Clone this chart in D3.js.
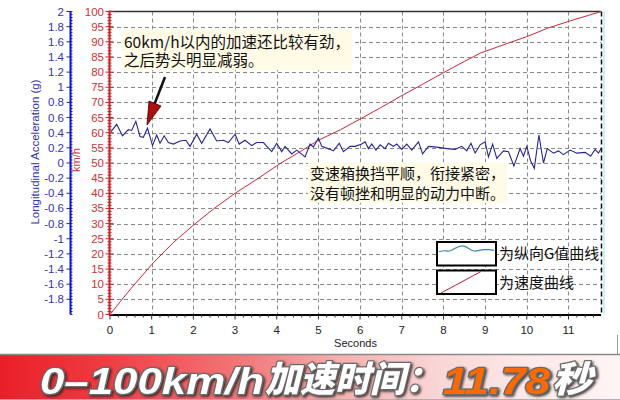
<!DOCTYPE html>
<html><head><meta charset="utf-8">
<script src="https://cdn.jsdelivr.net/npm/d3@7/dist/d3.min.js"></script>
<style>body{margin:0;background:#fff}svg{display:block}</style>
</head><body>
<svg id="c" width="620" height="400"></svg>
<script>
// ---- data ----
const gTime = [0.02,0.16,0.30,0.44,0.52,0.62,0.72,0.80,0.90,1.02,1.12,1.20,1.30,1.40,1.52,1.68,1.82,1.92,2.08,2.20,2.40,2.56,2.72,2.84,3.00,3.10,3.24,3.40,3.52,3.68,3.88,4.00,4.12,4.20,4.36,4.48,4.68,4.80,4.88,5.00,5.08,5.28,5.36,5.50,5.60,5.76,5.88,6.04,6.12,6.20,6.28,6.38,6.48,6.60,6.68,6.80,6.88,7.00,7.12,7.24,7.40,7.50,7.64,7.84,8.08,8.28,8.44,8.56,8.66,8.76,8.88,9.00,9.08,9.18,9.28,9.44,9.56,9.69,9.84,9.92,10.00,10.09,10.18,10.29,10.40,10.49,10.64,10.76,10.88,11.04,11.20,11.40,11.53,11.64,11.72,11.78];
const gValue = [0.41,0.51,0.36,0.44,0.43,0.55,0.35,0.34,0.46,0.23,0.37,0.26,0.36,0.27,0.25,0.29,0.30,0.22,0.38,0.26,0.45,0.29,0.30,0.27,0.38,0.25,0.30,0.23,0.27,0.27,0.15,0.26,0.15,0.22,0.12,0.17,0.08,0.25,0.21,0.33,0.22,0.18,0.16,0.26,0.15,0.22,0.22,0.25,0.28,0.19,0.25,0.17,0.24,0.19,0.26,0.22,0.25,0.18,0.25,0.17,0.28,0.12,0.22,0.21,0.19,0.18,0.22,0.16,0.26,0.13,0.24,0.28,0.08,0.25,0.06,0.16,0.15,-0.04,0.19,0.09,0.22,0.03,-0.07,0.37,0.00,0.19,0.13,0.16,0.11,0.17,0.13,0.14,0.09,0.18,0.13,0.19];
const vTime = [0,0.25,0.5,1,1.5,2,2.5,3,3.53,4.09,4.57,5,5.53,6,6.5,6.97,7.5,8,8.5,8.89,9.5,10,10.5,11.13,11.5,11.78];
const vValue = [0,4.3,8.5,16.5,23.5,29.5,35,40,44.7,49.9,53.8,57.5,61,64.5,68.3,72,76,79.8,83.5,86.3,89.3,91.7,94.5,97.3,98.8,100];
const xTicks = [0,1,2,3,4,5,6,7,8,9,10,11];
const vTicks = d3.range(0, 101, 5);
const gTicks = d3.range(-18, 21, 2).map(d => d / 10);
const note1 = ["60km/h以内的加速还比较有劲，", "之后势头明显减弱。"];
const note2 = ["变速箱换挡平顺，衔接紧密，", "没有顿挫和明显的动力中断。"];
const legendLabels = ["为纵向G值曲线", "为速度曲线"];
const legendWave = [0.45,0.55,0.45,0.65,0.85,0.9,0.65,0.45,0.55,0.6,0.6,0.55];
const bannerParts = ["0–100km/h", "加速时间：", "11.78", "秒"];

// ---- layout ----
const svg = d3.select("#c");
const L = 110, R = 601, T = 11.5, B = 314.5;
const x = d3.scaleLinear().domain([0, 11.78]).range([L, R]);
const yV = d3.scaleLinear().domain([0, 100]).range([B, T]);
const yG = d3.scaleLinear().domain([-2, 2]).range([B, T]);
const latin = "'Liberation Sans', Arial, sans-serif";
const cjk = "'Noto Sans CJK SC', sans-serif";

const defs = svg.append("defs");
const grad = defs.append("linearGradient").attr("id", "bg").attr("x1", 0).attr("x2", 1).attr("y1", 0).attr("y2", 0);
[[0,"#e91f28"],[0.15,"#ee383e"],[0.4,"#f27a7c"],[0.55,"#f6b0b0"],[0.7,"#fad4d4"],[0.85,"#fde9e9"],[1,"#fff4f4"]]
  .forEach(([o,c]) => grad.append("stop").attr("offset", o).attr("stop-color", c));
const f = defs.append("filter").attr("id", "sh").attr("x", "-10%").attr("y", "-20%").attr("width", "130%").attr("height", "150%");
f.append("feDropShadow").attr("dx", 1.5).attr("dy", 1.5).attr("stdDeviation", 1.2).attr("flood-color", "#222").attr("flood-opacity", 0.85);

// grid
const grid = svg.append("g").attr("stroke", "#8a8a8a").attr("stroke-dasharray", "4,3").attr("stroke-width", 1);
grid.selectAll("line.h").data(vTicks.filter(d => d > 0 && d < 100)).join("line")
  .attr("x1", L).attr("x2", R).attr("y1", d => Math.round(yV(d)) + 0.5).attr("y2", d => Math.round(yV(d)) + 0.5);
grid.selectAll("line.v").data(xTicks.filter(d => d > 0)).join("line")
  .attr("y1", T).attr("y2", B).attr("x1", d => Math.round(x(d)) + 0.5).attr("x2", d => Math.round(x(d)) + 0.5);

// frame
svg.append("line").attr("x1", L).attr("x2", R).attr("y1", T).attr("y2", T).attr("stroke", "#333").attr("stroke-width", 1.5);
svg.append("line").attr("x1", R + 0.5).attr("x2", R + 0.5).attr("y1", T).attr("y2", B).attr("stroke", "#111").attr("stroke-width", 1.5).attr("stroke-dasharray", "5,3");
svg.append("line").attr("x1", R + 3).attr("x2", R + 3).attr("y1", T).attr("y2", B).attr("stroke", "#c8f4f4").attr("stroke-width", 2);

// curves
svg.append("path").datum(vTime.map((t, i) => [t, vValue[i]]))
  .attr("fill", "none").attr("stroke", "#c42a3e").attr("stroke-width", 1)
  .attr("d", d3.line().x(d => x(d[0])).y(d => yV(d[1])));
svg.append("path").datum(gTime.map((t, i) => [t, gValue[i]]))
  .attr("fill", "none").attr("stroke", "#26268f").attr("stroke-width", 1.1)
  .attr("d", d3.line().x(d => x(d[0])).y(d => yG(d[1])));

// x axis
const xa = svg.append("g");
xa.append("line").attr("x1", L - 1).attr("x2", R).attr("y1", B + 0.5).attr("y2", B + 0.5).attr("stroke", "#000").attr("stroke-width", 2);
xa.selectAll("line.mn").data(d3.range(0, 59).map(i => i / 5)).join("line")
  .attr("x1", d => x(d)).attr("x2", d => x(d)).attr("y1", B).attr("y2", d => Math.abs(d - Math.round(d)) < 1e-6 ? B + 5 : B + 3)
  .attr("stroke", "#333").attr("stroke-width", 1);
xa.selectAll("text").data(xTicks).join("text")
  .attr("x", d => x(d)).attr("y", 334).attr("text-anchor", "middle")
  .attr("font-family", latin).attr("font-size", 11.5).attr("fill", "#222").text(d => d);
svg.append("text").attr("x", (L + R) / 2).attr("y", 347).attr("text-anchor", "middle")
  .attr("font-family", latin).attr("font-size", 11).attr("fill", "#222").text("Seconds");

// red speed axis
const ra = svg.append("g");
const rx = 109.5;
ra.selectAll("line.mn").data(d3.range(0, 101, 1)).join("line")
  .attr("x1", d => d % 5 === 0 ? rx - 4 : rx - 2).attr("x2", d => d % 5 === 0 ? rx + 4 : rx + 2)
  .attr("y1", d => yV(d)).attr("y2", d => yV(d)).attr("stroke", "#cc2222").attr("stroke-width", 1);
ra.append("line").attr("x1", rx).attr("x2", rx).attr("y1", T - 1).attr("y2", B + 1).attr("stroke", "#cc2222").attr("stroke-width", 2);
ra.selectAll("text").data(vTicks).join("text")
  .attr("x", 104).attr("y", d => yV(d)).attr("dy", "0.35em").attr("text-anchor", "end")
  .attr("font-family", latin).attr("font-size", 11.5).attr("fill", "#cc3333").text(d => d);
svg.append("text").attr("transform", "translate(80,160) rotate(-90)").attr("text-anchor", "middle")
  .attr("font-family", latin).attr("font-size", 11).attr("fill", "#cc3333").text("km/h");

// blue g axis
const ba = svg.append("g");
const bx = 70.5;
ba.selectAll("line.mn").data(d3.range(-50, 51, 1).map(i => i / 25)).join("line")
  .attr("x1", bx).attr("x2", bx + 2)
  .attr("y1", d => yG(d)).attr("y2", d => yG(d)).attr("stroke", "#2020c0").attr("stroke-width", 1);
ba.selectAll("line.mj").data(gTicks).join("line")
  .attr("x1", bx - 4).attr("x2", bx).attr("y1", d => yG(d)).attr("y2", d => yG(d)).attr("stroke", "#2020c0").attr("stroke-width", 1);
ba.append("line").attr("x1", bx).attr("x2", bx).attr("y1", T).attr("y2", B).attr("stroke", "#1010cc").attr("stroke-width", 2);
ba.selectAll("text").data(gTicks).join("text")
  .attr("x", 64).attr("y", d => yG(d)).attr("dy", "0.35em").attr("text-anchor", "end")
  .attr("font-family", latin).attr("font-size", 11.5).attr("fill", "#3535a8").text(d => String(+d.toFixed(1)));
svg.append("text").attr("transform", "translate(39,152) rotate(-90)").attr("text-anchor", "middle")
  .attr("font-family", latin).attr("font-size", 11.5).attr("fill", "#3535a8").text("Longitudinal Acceleration (g)");

// annotations with light background
function note(lines, x0, y0, lh, fs) {
  const g = svg.append("g");
  const bgR = g.append("rect").attr("fill", "#fffbe6");
  const t = g.selectAll("text").data(lines).join("text")
    .attr("x", x0).attr("y", (d, i) => y0 + i * lh).attr("dy", "0.36em")
    .attr("font-family", cjk).attr("font-size", fs).attr("fill", "#111").text(d => d);
  const bb = g.node().getBBox();
  bgR.attr("x", bb.x - 2).attr("y", bb.y).attr("width", bb.width + 4).attr("height", bb.height);
}
note(note1, 124, 42, 18.5, 15.5);
note(note2, 310, 174, 19.5, 15);

// arrow
svg.append("line").attr("x1", 165).attr("y1", 77).attr("x2", 154.5).attr("y2", 104).attr("stroke", "#111").attr("stroke-width", 2.5);
svg.append("path").attr("d", "M147,125 L149,101 L161,106 Z").attr("fill", "#b00f0f").attr("stroke", "#3a0000").attr("stroke-width", 0.8);

// legend
const lg = svg.append("g");
[0, 1].forEach(i => {
  const y0 = 242 + i * 28.5;
  lg.append("rect").attr("x", 437).attr("y", y0).attr("width", 59).attr("height", 23.5)
    .attr("fill", "#fff").attr("stroke", "#000").attr("stroke-width", 2);
  lg.append("text").attr("x", 499).attr("y", y0 + 12).attr("dy", "0.36em")
    .attr("font-family", cjk).attr("font-size", 15).attr("fill", "#111")
    .text(legendLabels[i]);
});
const wx = d3.scaleLinear().domain([0, legendWave.length - 1]).range([439, 494]);
const wy = d3.scaleLinear().domain([0, 1]).range([258, 244]);
lg.append("path").attr("fill", "none").attr("stroke", "#3d86b0").attr("stroke-width", 1.2)
  .attr("d", d3.line().curve(d3.curveBasis).x((d, i) => wx(i)).y(d => wy(d))(legendWave));
lg.append("line").attr("x1", 441).attr("y1", 293).attr("x2", 481).attr("y2", 271.5).attr("stroke", "#b02535").attr("stroke-width", 1);

// bottom right frame bits
svg.append("line").attr("x1", 617.5).attr("x2", 617.5).attr("y1", 335).attr("y2", 354).attr("stroke", "#999");

// banner
svg.append("rect").attr("x", 0).attr("y", 355).attr("width", 620).attr("height", 45).attr("fill", "url(#bg)");
svg.append("line").attr("x1", 0).attr("x2", 620).attr("y1", 354.5).attr("y2", 354.5).attr("stroke", "#8a8a8a").attr("stroke-width", 1.5);
svg.append("line").attr("x1", 0).attr("x2", 620).attr("y1", 399.5).attr("y2", 399.5).attr("stroke", "#b0b0b0");
const bn = svg.append("g").attr("filter", "url(#sh)");
const parts = [
  {t: bannerParts[0], x: 40, w: 224, fam: latin, fill: "#fff", y: 394},
  {t: bannerParts[1], x: 265, w: 175, fam: cjk, fill: "#fff", y: 392},
  {t: bannerParts[2], x: 443, w: 107, fam: latin, fill: "#ff6a00", y: 394},
  {t: bannerParts[3], x: 552, w: 40, fam: cjk, fill: "#fff", y: 392}
];
bn.selectAll("text").data(parts).join("text")
  .attr("x", d => d.x).attr("y", d => d.y)
  .attr("font-family", d => d.fam).attr("font-size", 36).attr("font-weight", 900).attr("font-style", "italic")
  .attr("fill", d => d.fill).attr("stroke", "#6a6a6a").attr("stroke-width", 2.4).attr("paint-order", "stroke")
  .attr("stroke-linejoin", "round")
  .attr("textLength", d => d.w).attr("lengthAdjust", "spacingAndGlyphs")
  .text(d => d.t);
</script>
</body></html>
